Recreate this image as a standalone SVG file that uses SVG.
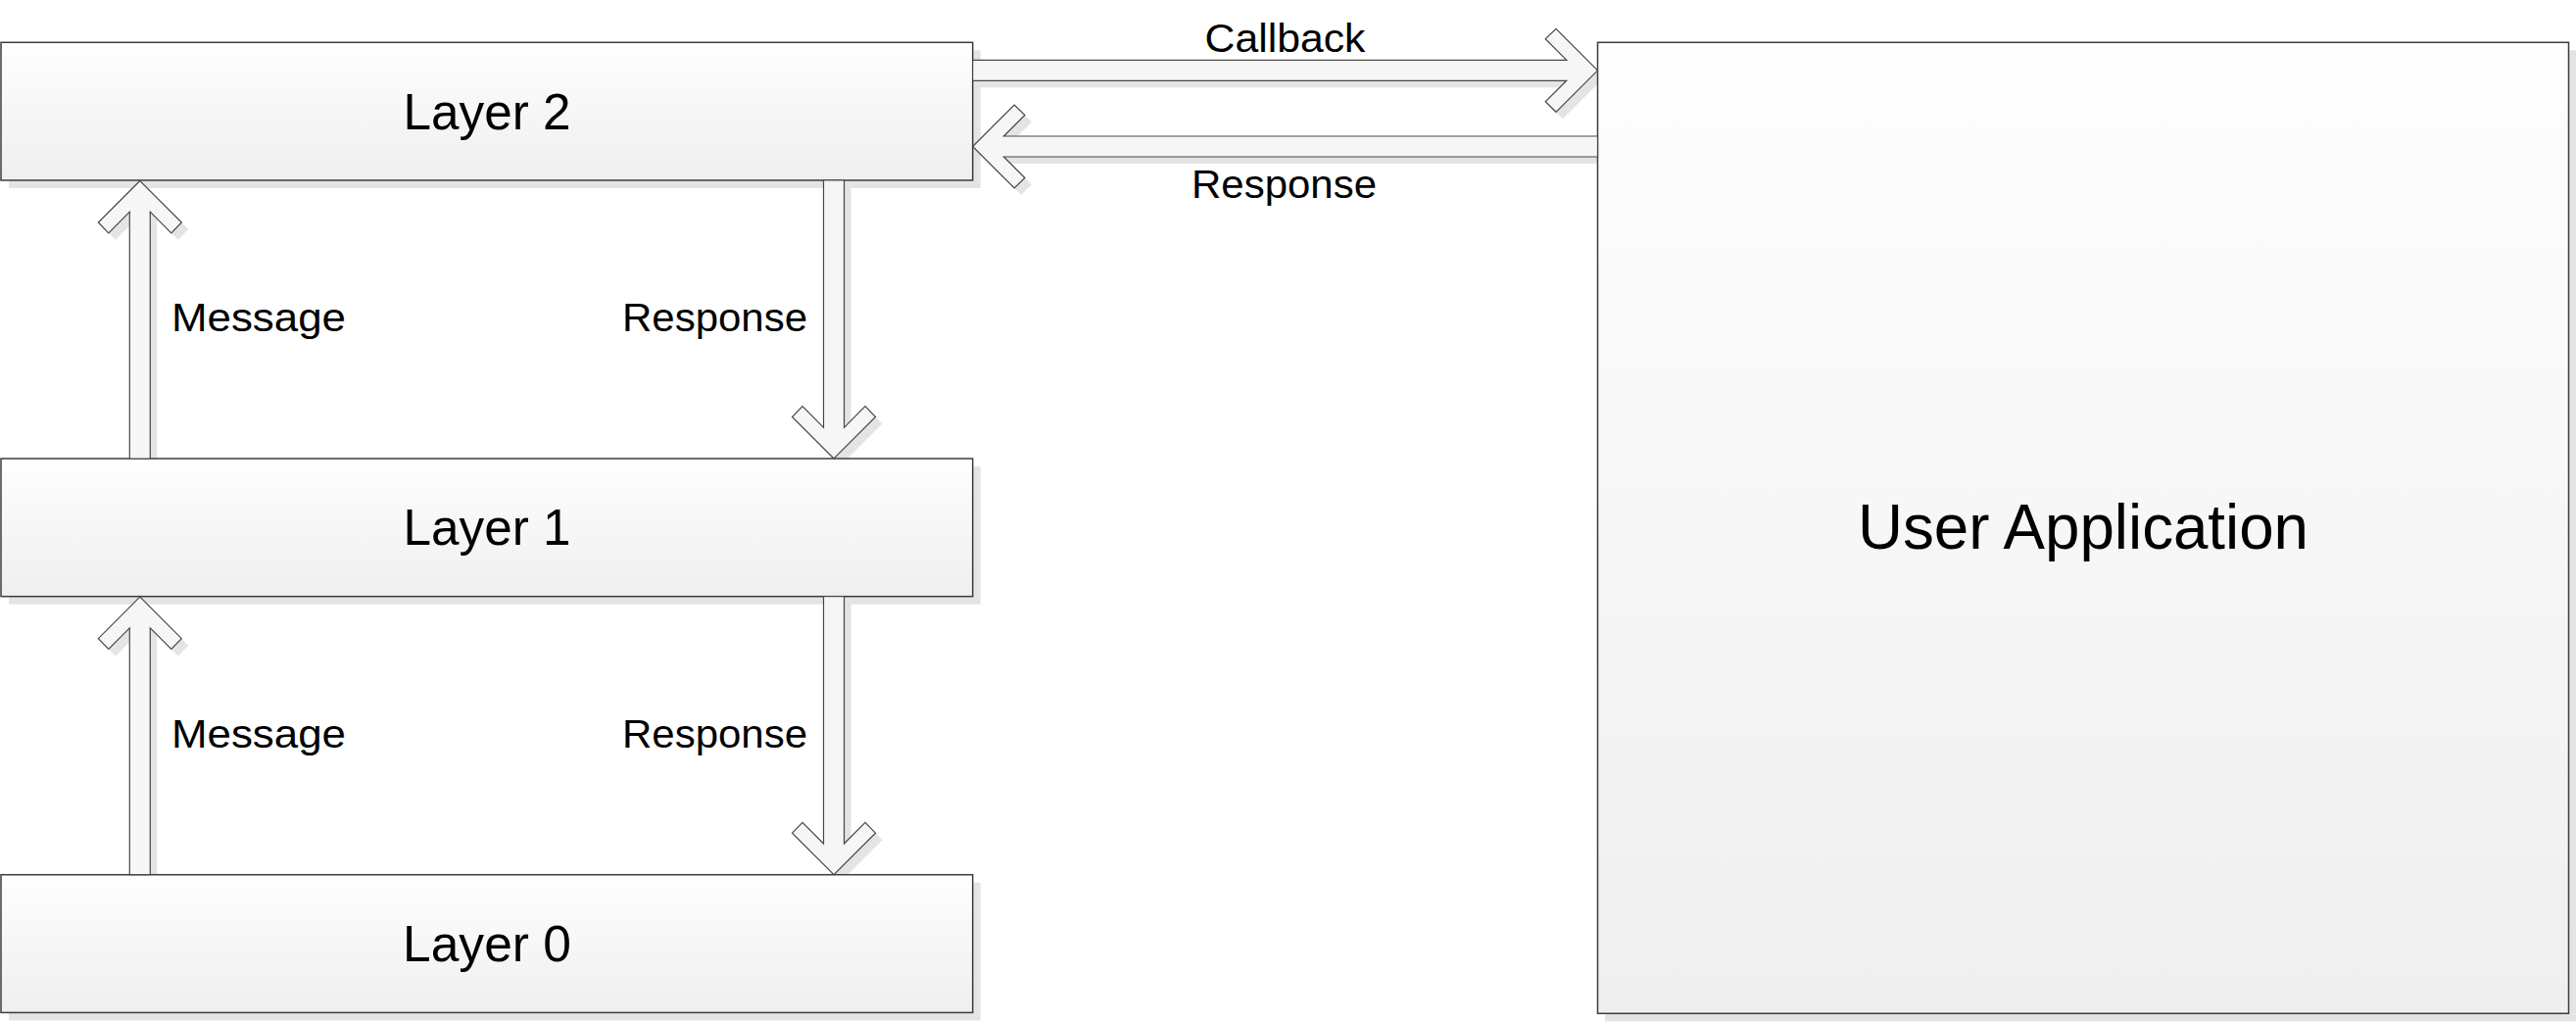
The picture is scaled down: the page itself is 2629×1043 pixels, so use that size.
<svg xmlns="http://www.w3.org/2000/svg" width="2629" height="1043" viewBox="0 0 2629 1043">
  <defs>
    <linearGradient id="boxFill" x1="0" y1="0" x2="0" y2="1">
      <stop offset="0" stop-color="#fefefe"/>
      <stop offset="1" stop-color="#efefef"/>
    </linearGradient>
    <linearGradient id="arrowFill" x1="0" y1="0" x2="1" y2="1">
      <stop offset="0" stop-color="#fbfbfb"/>
      <stop offset="1" stop-color="#f1f1f1"/>
    </linearGradient>
  </defs>
  <style>
    .shadow { fill: #e4e4e4; stroke: none; }
    .box { fill: url(#boxFill); stroke: #3c3c3c; stroke-width: 1.5; }
    .arrow { fill: #f6f6f6; stroke: #484848; stroke-width: 1.2; stroke-linejoin: miter; }
    .boxText { font-family: "Liberation Sans", Arial, sans-serif; font-size: 52px; fill: #000; text-anchor: middle; }
    .bigText { font-family: "Liberation Sans", Arial, sans-serif; font-size: 64px; fill: #000; text-anchor: middle; }
    .label { font-family: "Liberation Sans", Arial, sans-serif; font-size: 41px; fill: #000; }
  </style>
  <rect width="2629" height="1043" fill="#ffffff"/>

  <!-- connector shadows -->
  <g id="connector-shadows" transform="translate(7,7)">
    <polygon class="shadow" points="1630.5,71.8 1588,29.3 1577.2,39.8 1598.8,61.3 992.7,61.3 992.7,82.3 1598.8,82.3 1577.2,103.8 1588,114.3"/>
    <polygon class="shadow" points="992.7,149.5 1035.2,107 1045.9,117.5 1024.4,139 1630.5,139 1630.5,160 1024.4,160 1045.9,181.5 1035.2,192"/>
    <polygon class="shadow" points="142.8,184.5 100.3,227 110.8,237.8 132.3,216.2 132.3,468 153.3,468 153.3,216.2 174.8,237.8 185.3,227"/>
    <polygon class="shadow" points="851,468 808.5,425.5 819,414.7 840.5,436.3 840.5,184 861.5,184 861.5,436.3 883,414.7 893.5,425.5"/>
    <polygon class="shadow" points="142.8,609.2 100.3,651.7 110.8,662.5 132.3,640.9 132.3,892.7 153.3,892.7 153.3,640.9 174.8,662.5 185.3,651.7"/>
    <polygon class="shadow" points="851,892.7 808.5,850.2 819,839.4 840.5,861 840.5,608.7 861.5,608.7 861.5,861 883,839.4 893.5,850.2"/>
  </g>

  <!-- nodes -->
  <g id="layer2">
    <rect class="shadow" x="9" y="51.3" width="991.7" height="140.7"/>
    <rect class="box" x="1" y="43.3" width="991.7" height="140.7"/>
    <text class="boxText" x="497" y="131.5" textLength="171" lengthAdjust="spacingAndGlyphs">Layer 2</text>
  </g>
  <g id="layer1">
    <rect class="shadow" x="9" y="476" width="991.7" height="140.7"/>
    <rect class="box" x="1" y="468" width="991.7" height="140.7"/>
    <text class="boxText" x="497" y="556.2" textLength="171" lengthAdjust="spacingAndGlyphs">Layer 1</text>
  </g>
  <g id="layer0">
    <rect class="shadow" x="9" y="900.7" width="991.7" height="140.7"/>
    <rect class="box" x="1" y="892.7" width="991.7" height="140.7"/>
    <text class="boxText" x="497" y="981" textLength="172" lengthAdjust="spacingAndGlyphs">Layer 0</text>
  </g>
  <g id="user-application">
    <rect class="shadow" x="1638" y="51.3" width="991" height="991"/>
    <rect class="box" x="1630.5" y="43.3" width="991" height="991"/>
    <text class="bigText" x="2126" y="560" textLength="460" lengthAdjust="spacingAndGlyphs">User Application</text>
  </g>

  <!-- connectors -->
  <g id="connectors">
    <g id="callback">
      <polygon class="arrow" points="1630.5,71.8 1588,29.3 1577.2,39.8 1598.8,61.3 992.7,61.3 992.7,82.3 1598.8,82.3 1577.2,103.8 1588,114.3"/>
      <text class="label" x="1229.5" y="52.7" textLength="164" lengthAdjust="spacingAndGlyphs">Callback</text>
    </g>
    <g id="response-top">
      <polygon class="arrow" points="992.7,149.5 1035.2,107 1045.9,117.5 1024.4,139 1630.5,139 1630.5,160 1024.4,160 1045.9,181.5 1035.2,192"/>
      <text class="label" x="1216" y="201.7" textLength="189" lengthAdjust="spacingAndGlyphs">Response</text>
    </g>
    <g id="message-1-2">
      <polygon class="arrow" points="142.8,184.5 100.3,227 110.8,237.8 132.3,216.2 132.3,468 153.3,468 153.3,216.2 174.8,237.8 185.3,227"/>
      <text class="label" x="175" y="338.3" textLength="178" lengthAdjust="spacingAndGlyphs">Message</text>
    </g>
    <g id="response-2-1">
      <polygon class="arrow" points="851,468 808.5,425.5 819,414.7 840.5,436.3 840.5,184 861.5,184 861.5,436.3 883,414.7 893.5,425.5"/>
      <text class="label" x="635" y="338.3" textLength="189" lengthAdjust="spacingAndGlyphs">Response</text>
    </g>
    <g id="message-0-1">
      <polygon class="arrow" points="142.8,609.2 100.3,651.7 110.8,662.5 132.3,640.9 132.3,892.7 153.3,892.7 153.3,640.9 174.8,662.5 185.3,651.7"/>
      <text class="label" x="175" y="762.5" textLength="178" lengthAdjust="spacingAndGlyphs">Message</text>
    </g>
    <g id="response-1-0">
      <polygon class="arrow" points="851,892.7 808.5,850.2 819,839.4 840.5,861 840.5,608.7 861.5,608.7 861.5,861 883,839.4 893.5,850.2"/>
      <text class="label" x="635" y="762.5" textLength="189" lengthAdjust="spacingAndGlyphs">Response</text>
    </g>
  </g>
</svg>
